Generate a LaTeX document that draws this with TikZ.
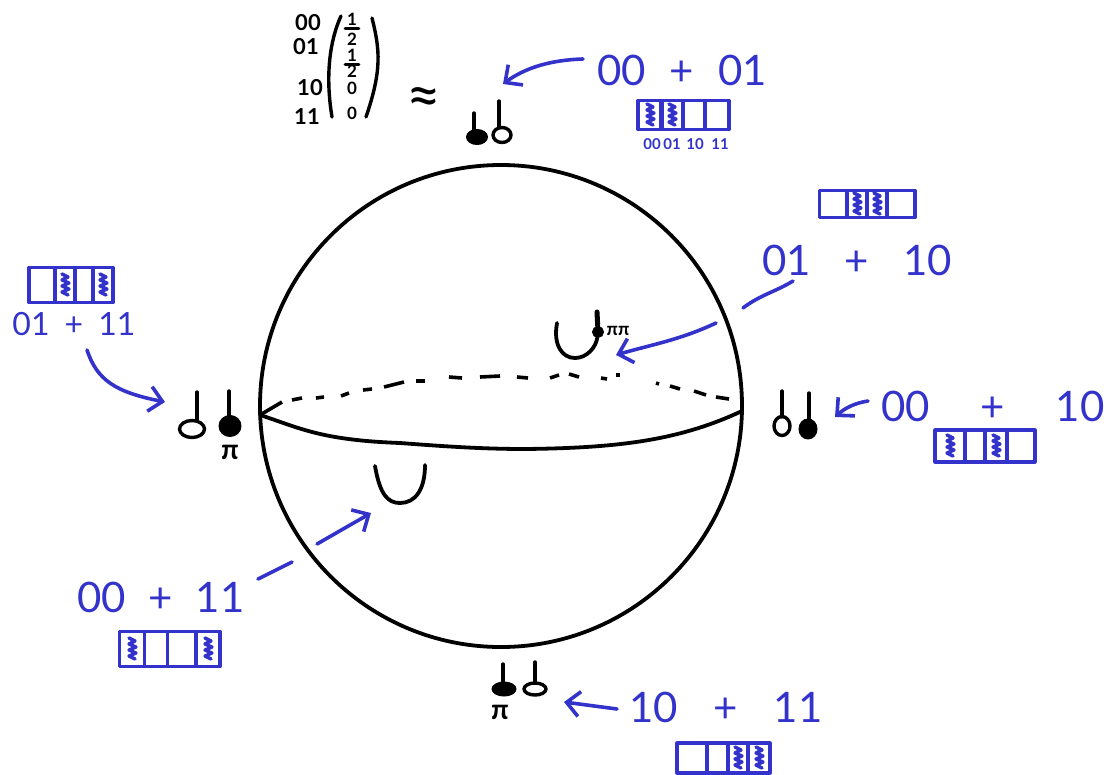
\documentclass[tikz,border=0pt]{standalone}
\usepackage{fontspec}
\setmainfont{Lato}
\usepackage{tikz}
\usetikzlibrary{arrows.meta,calc,shapes.geometric}
\definecolor{ublue}{RGB}{51,51,204}
\newcommand{\kets}[3]{\makebox[#1pt][s]{#2\hfill+\hfill#3}}

\begin{document}
\begin{tikzpicture}[x=1pt,y=-1pt,line cap=round,line join=round,
        ink/.style={draw=black,line width=3.8pt},
        bar/.style={draw=black,line width=3.4pt},
        dsh/.style={draw=black,line width=3.6pt,line cap=butt},
        qopen/.style={ellipse,draw=black,line width=3.4pt,inner sep=0pt},
        qfill/.style={ellipse,draw=black,fill=black,line width=1pt,inner sep=0pt},
        arw/.style={draw=ublue,line width=3.6pt},
        tip/.style={arw,-{Straight Barb[length=13pt,width=25pt]}},
        lbl/.style={text=ublue,inner sep=0pt,font=\fontsize{42}{44}\selectfont},
        lbls/.style={text=ublue,inner sep=0pt,font=\fontsize{32}{34}\selectfont},
        tiny/.style={text=ublue,inner sep=0pt,font=\bfseries\fontsize{15}{16}\selectfont},
        mat/.style={inner sep=0pt,font=\bfseries\fontsize{22}{23}\selectfont},
        amp/.style={inner sep=0pt,font=\bfseries\fontsize{17}{18}\selectfont},
        piq/.style={inner sep=0pt,font=\bfseries\fontsize{28}{30}\selectfont},
        cel/.style={draw=ublue,line width=3.2pt,inner sep=0pt},
        ful/.style={cel,path picture={\draw[ublue,line width=3.4pt]
          ($(path picture bounding box.center)+(-3,-11)$) -- ++(6,3) -- ++(-6,3) -- ++(7,3)
          -- ++(-7,3) -- ++(7,3) -- ++(-7,3) -- ++(6,3);}}]
        \useasboundingbox (0,0) rectangle (1107,774);
        % sphere and equator
        \node[circle,ink,inner sep=0pt,minimum size=482pt](sph) at (501,406){};
        \coordinate (eqw) at (260,415);
        \coordinate (eqm) at (525,449);
        \coordinate (eqe) at (742,411);
        \draw[ink] (eqw) .. controls (300,428) and (320,440) .. (400,443)
                   .. controls (440,446) and (480,449) .. (eqm)
                   .. controls (620,448) and (680,440) .. (eqe);
        \foreach \xa/\ya/\xb/\yb in {260/415/282/402,292/400/302/398,316/398/324/397,341/396/349/393,
            363/390/372/389,384/387/404/382,416/381/425/381,449/377/462/378,480/377/500/376,
            517/377/528/378,550/378/559/375,569/374/579/377,601/378/607/379,616/375/620/375,
            656/383/659/384,670/386/680/389,694/391/706/395,716/397/729/399}
          {\draw[dsh] (\xa,\ya) -- (\xb,\yb);}
        % qubit states
        \foreach \n/\s/\x/\y/\w/\h/\tx/\ty in {ta/qfill/477/137/21/15/474/113,tb/qopen/502/135/18/15/499/101,
            la/qopen/192/429/25/17/197/392,lb/qfill/230/426/22/21/229/391,
            ra/qopen/782/426/16/19/782/391,rb/qfill/808/429/18/20/809/393,
            ba/qfill/504/689/24/14/503/664,bb/qopen/535/689/22/12/535/662}
          {\node[\s,minimum width=\w pt,minimum height=\h pt](\n) at (\x,\y){};
           \coordinate (\n t) at (\tx,\ty);
           \draw[bar] (\n t) -- ($(\n t |- \n.north)+(0,2)$);}
        \node[piq](pil) at (230,452){π};
        \node[piq](pib) at (500,712){π};
        % cups
        \coordinate (cupa) at (375,466);
        \coordinate (cupb) at (425,465);
        \draw[ink] (cupa) .. controls (380,495) and (388,503) .. (400,503)
                   .. controls (415,503) and (425,490) .. (cupb);
        \coordinate (cupc) at (557,323);
        \node[qfill,minimum size=11pt](dot) at (598,332){};
        \coordinate (dott) at (597,312);
        \draw[ink] (cupc) .. controls (553,345) and (562,358) .. (575,358)
                   .. controls (587,358) and (596,347) .. (dot);
        \draw[draw=black,line width=5pt] (dot) -- (dott);
        \node[inner sep=0pt,font=\bfseries\fontsize{18}{19}\selectfont](pii) at (618,331){ππ};
        % amplitudes
        \foreach \i/\t/\x/\y in {a/00/308/23,b/01/306/47,c/10/310/88,d/11/307/117}
          {\node[mat](idx\i) at (\x,\y){\t};}
        \foreach \i/\ya/\yb in {a/19/39,b/55/71}
          {\node[amp](num\i) at (352,\ya){1};
           \node[amp](den\i) at (352,\yb){2};
           \draw[draw=black,line width=2.8pt] ($(num\i.south)+(-7,3)$) -- ($(num\i.south)+(7,3)$);}
        \node[amp](zeroa) at (352,88){0};
        \node[amp](zerob) at (352,113){0};
        \coordinate (pla) at (341,16);
        \coordinate (plb) at (332,117);
        \coordinate (pra) at (372,18);
        \coordinate (prb) at (366,117);
        \draw[bar] (pla) .. controls (330,40) and (325,75) .. (plb);
        \draw[bar] (pra) .. controls (380,50) and (382,70) .. (prb);
        \node[inner sep=0pt,font=\fontsize{60}{60}\selectfont](apx) at (424,102){≈};
        % basis labels
        \node[lbl](ka) at (682,70){\kets{170}{00}{01}};
        \node[lbl](kb) at (857,260){\kets{190}{01}{10}};
        \node[lbl](kc) at (993,406){\kets{223}{00}{10}};
        \node[lbl](kd) at (161,597){\kets{167}{00}{11}};
        \node[lbl](ke) at (726,707){\kets{193}{10}{11}};
        \node[lbls](kf) at (74,324){\kets{123}{01}{11}};
        % registers
        \foreach \i/\c/\w/\s in {1/650/24/ful,2/672/22/ful,3/694/22/cel,4/717/24/cel}
          {\node[\s,minimum width=\w pt,minimum height=29pt](rga\i) at (\c,115){};}
        \foreach \i/\t/\x in {1/00/652,2/01/672,3/10/695,4/11/720}
          {\node[tiny](tga\i) at (\x,144){\t};}
        \foreach \i/\c/\w/\s in {1/833/27/cel,2/857/20/ful,3/877/20/ful,4/901/28/cel}
          {\node[\s,minimum width=\w pt,minimum height=27pt](rgb\i) at (\c,204){};}
        \foreach \i/\c/\w/\s in {1/42/26/cel,2/65/20/ful,3/84/18/cel,4/103/20/ful}
          {\node[\s,minimum width=\w pt,minimum height=35pt](rgc\i) at (\c,285){};}
        \foreach \i/\c/\w/\s in {1/950/30/ful,2/975/20/cel,3/996/22/ful,4/1021/28/cel}
          {\node[\s,minimum width=\w pt,minimum height=32pt](rgd\i) at (\c,446){};}
        \foreach \i/\c/\w/\s in {1/132/25/ful,2/156/23/cel,3/182/29/cel,4/208/24/ful}
          {\node[\s,minimum width=\w pt,minimum height=35pt](rge\i) at (\c,649){};}
        \foreach \i/\c/\w/\s in {1/692/30/cel,2/717/21/cel,3/738/20/ful,4/759/22/ful}
          {\node[\s,minimum width=\w pt,minimum height=30pt](rgf\i) at (\c,758){};}
        % arrows
        \coordinate (aas) at (583,59);
        \coordinate (aae) at (503,84);
        \draw[tip] (aas) .. controls (550,60) and (525,68) .. (aae);
        \coordinate (abs) at (793,281);
        \coordinate (abm) at (743,308);
        \coordinate (abn) at (716,323);
        \coordinate (abe) at (616,355);
        \draw[arw] (abs) .. controls (775,292) and (760,295) .. (abm);
        \draw[tip] (abn) .. controls (680,340) and (650,345) .. (abe);
        \coordinate (acs) at (868,401);
        \coordinate (ace) at (835,417);
        \draw[tip] (acs) .. controls (855,403) and (845,408) .. (ace);
        \coordinate (ads) at (87,350);
        \coordinate (ade) at (165,402);
        \draw[tip] (ads) .. controls (97,380) and (115,392) .. (ade);
        \coordinate (aes) at (258,579);
        \coordinate (aem) at (292,562);
        \coordinate (aen) at (317,544);
        \coordinate (aee) at (371,513);
        \draw[arw] (aes) -- (aem);
        \draw[tip] (aen) -- (aee);
        \coordinate (afs) at (617,709);
        \coordinate (afe) at (564,702);
        \draw[tip] (afs) -- (afe);
      \end{tikzpicture}
\end{document}
